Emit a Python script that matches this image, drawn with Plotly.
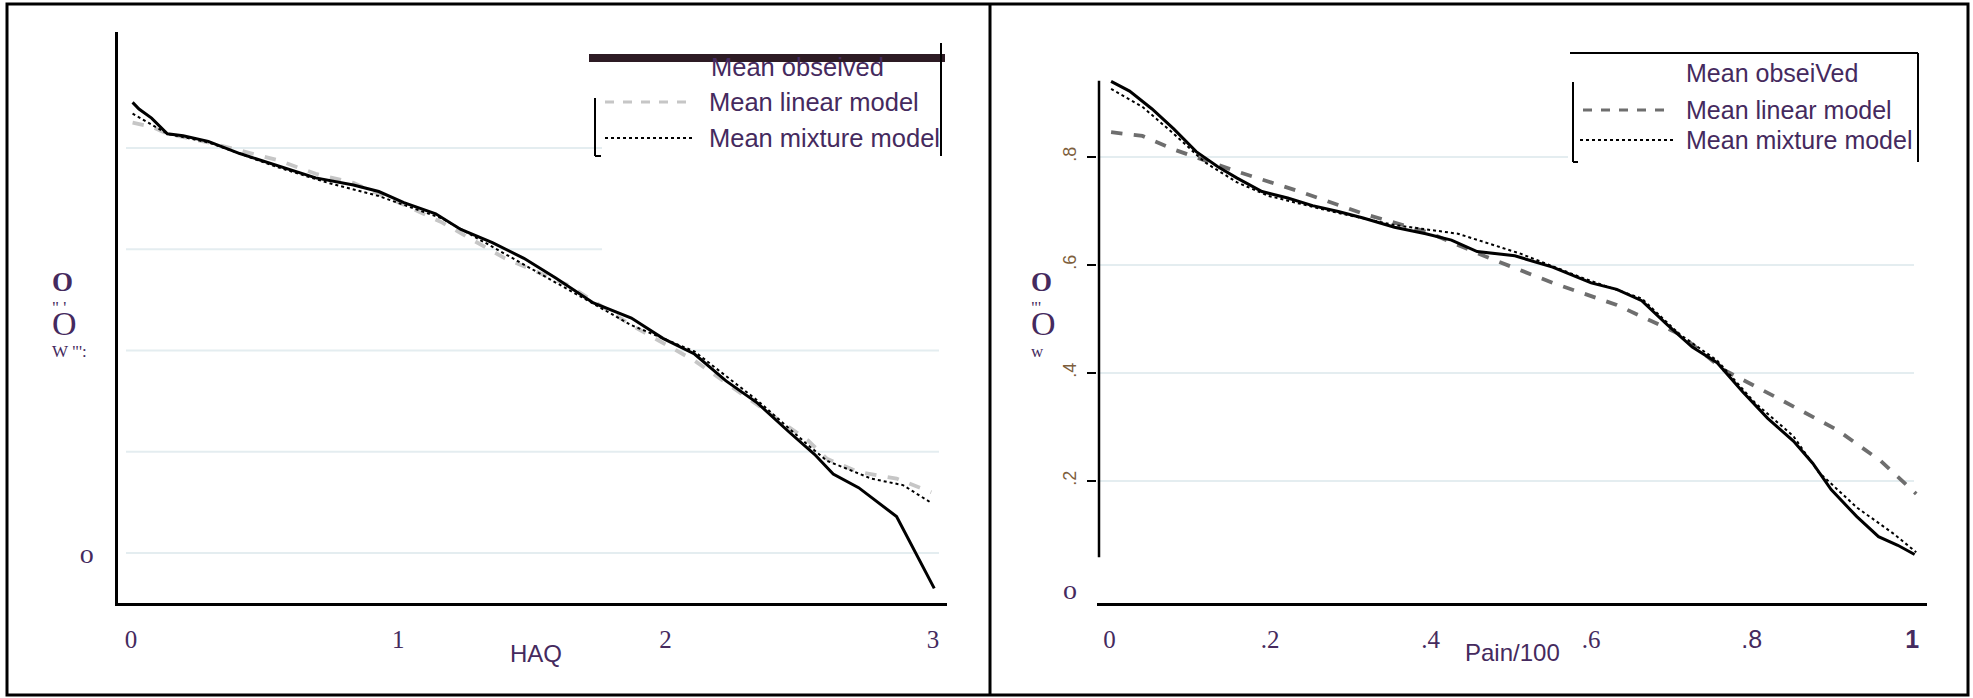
import plotly.graph_objects as go

W, H = 1973, 698

# ---------------- data ----------------
haq_obs_x = [0.006, 0.030, 0.077, 0.136, 0.195, 0.289, 0.407, 0.549, 0.691, 0.832, 0.927, 1.021,
             1.140, 1.234, 1.352, 1.470, 1.589, 1.730, 1.872, 1.990, 2.108, 2.226, 2.344, 2.462,
             2.557, 2.627, 2.722, 2.864, 2.935, 3.005]
haq_obs_y = [0.890, 0.877, 0.859, 0.828, 0.824, 0.813, 0.789, 0.765, 0.741, 0.727, 0.714, 0.692,
             0.670, 0.639, 0.613, 0.582, 0.543, 0.494, 0.464, 0.424, 0.393, 0.340, 0.296, 0.239,
             0.195, 0.156, 0.129, 0.072, 0.002, -0.070]

haq_lin_x = [0.006, 0.077, 0.136, 0.289, 0.549, 0.691, 0.832, 1.021, 1.163, 1.399, 1.636, 1.872,
             2.108, 2.344, 2.533, 2.604, 2.722, 2.864, 2.994]
haq_lin_y = [0.850, 0.842, 0.828, 0.811, 0.776, 0.749, 0.731, 0.688, 0.653, 0.582, 0.529, 0.450,
             0.380, 0.292, 0.222, 0.186, 0.160, 0.147, 0.120]

haq_mix_x = [0.006, 0.136, 0.289, 0.549, 0.738, 0.927, 1.163, 1.399, 1.636, 1.872, 2.108, 2.344,
             2.533, 2.604, 2.769, 2.888, 2.994]
haq_mix_y = [0.868, 0.828, 0.811, 0.762, 0.731, 0.705, 0.661, 0.591, 0.521, 0.450, 0.398, 0.301,
             0.213, 0.182, 0.147, 0.134, 0.099]

pain_obs_x = [0.002, 0.025, 0.053, 0.080, 0.108, 0.135, 0.159, 0.190, 0.222, 0.253, 0.285, 0.316,
              0.355, 0.394, 0.426, 0.458, 0.505, 0.552, 0.600, 0.632, 0.663, 0.695, 0.726, 0.757,
              0.789, 0.820, 0.852, 0.876, 0.899, 0.931, 0.958, 0.982, 1.003]
pain_obs_y = [0.940, 0.922, 0.889, 0.852, 0.810, 0.782, 0.761, 0.736, 0.724, 0.710, 0.699, 0.687,
              0.670, 0.658, 0.646, 0.625, 0.617, 0.596, 0.567, 0.555, 0.534, 0.489, 0.448, 0.419,
              0.365, 0.316, 0.274, 0.233, 0.184, 0.134, 0.097, 0.081, 0.064]

pain_lin_x = [0.002, 0.041, 0.080, 0.159, 0.237, 0.316, 0.394, 0.473, 0.552, 0.632, 0.710, 0.765,
              0.828, 0.906, 0.961, 1.005]
pain_lin_y = [0.846, 0.839, 0.814, 0.773, 0.736, 0.695, 0.662, 0.613, 0.567, 0.526, 0.472, 0.406,
              0.357, 0.295, 0.237, 0.176]

pain_mix_x = [0.002, 0.041, 0.080, 0.119, 0.159, 0.198, 0.277, 0.355, 0.434, 0.512, 0.591, 0.663,
              0.710, 0.757, 0.804, 0.852, 0.883, 0.931, 0.978, 1.005]
pain_mix_y = [0.926, 0.893, 0.843, 0.790, 0.753, 0.728, 0.699, 0.674, 0.658, 0.621, 0.575, 0.538,
              0.472, 0.423, 0.345, 0.283, 0.217, 0.151, 0.101, 0.068]

haq_ticks = [0, 1, 2, 3]
haq_ticktext = ["0", "1", "2", "3"]
pain_ticks = [0, 0.2, 0.4, 0.6, 0.8, 1]
pain_ticktext = ["0", ".2", ".4", ".6",
                 "<span style='font-family:Liberation Sans'>.8</span>",
                 "<span style='font-family:Liberation Sans'><b>1</b></span>"]
pain_yticks = [0.2, 0.4, 0.6, 0.8]
pain_yticktext = [".2", ".4", ".6", ".8"]
grid_left = [0, 0.2, 0.4, 0.6, 0.8]
grid_right = [0.2, 0.4, 0.6, 0.8]

legend_labels_left = ["Mean obseived", "Mean linear model", "Mean mixture model"]
legend_labels_right = ["Mean obseiVed", "Mean linear model", "Mean mixture model"]
x_title_left = "HAQ"
x_title_right = "Pain/100"
y_title_left = ("<span style='font-size:27px'><b>O</b></span><br>\" '<br>"
                "<span style='font-size:34px'>O</span><br>W \"':")
y_title_right = ("<span style='font-size:27px'><b>O</b></span><br>\"'<br>"
                 "<span style='font-size:34px'>O</span><br>w")

# ---------------- helpers ----------------
def px(x):
    return x / W

def py(y):
    return 1 - y / H

SERIF = "Liberation Serif"
SANS = "Liberation Sans"
PURPLE = "#452a5e"
GRID = "#e4edf0"

fig = go.Figure()

# left traces
fig.add_trace(go.Scatter(x=haq_lin_x, y=haq_lin_y, mode="lines", xaxis="x", yaxis="y",
                         line=dict(color="#c6c6c6", width=3.8, dash="dash"), showlegend=False))
fig.add_trace(go.Scatter(x=haq_mix_x, y=haq_mix_y, mode="lines", xaxis="x", yaxis="y",
                         line=dict(color="black", width=2, dash="dot"), showlegend=False))
fig.add_trace(go.Scatter(x=haq_obs_x, y=haq_obs_y, mode="lines", xaxis="x", yaxis="y",
                         line=dict(color="black", width=3), showlegend=False))
# right traces
fig.add_trace(go.Scatter(x=pain_lin_x, y=pain_lin_y, mode="lines", xaxis="x2", yaxis="y2",
                         line=dict(color="#6e6e6e", width=3.8, dash="dash"), showlegend=False))
fig.add_trace(go.Scatter(x=pain_mix_x, y=pain_mix_y, mode="lines", xaxis="x2", yaxis="y2",
                         line=dict(color="black", width=2, dash="dot"), showlegend=False))
fig.add_trace(go.Scatter(x=pain_obs_x, y=pain_obs_y, mode="lines", xaxis="x2", yaxis="y2",
                         line=dict(color="black", width=3), showlegend=False))

shapes = []
# gridlines
for g in grid_left:
    x1 = 939 if g <= 0.4 else 602
    shapes.append(dict(type="line", xref="paper", yref="y", x0=px(126), x1=px(x1), y0=g, y1=g,
                       line=dict(color=GRID, width=2), layer="below"))
for g in grid_right:
    x1 = 1914 if g <= 0.6 else 1568
    shapes.append(dict(type="line", xref="paper", yref="y2", x0=px(1099), x1=px(x1), y0=g, y1=g,
                       line=dict(color=GRID, width=2), layer="below"))

# right y axis line (shorter than domain)
shapes.append(dict(type="line", xref="paper", yref="y2", x0=px(1099), x1=px(1099),
                   y0=0.059, y1=0.941, line=dict(color="black", width=2.5)))

# outer frame and separator
shapes.append(dict(type="rect", xref="paper", yref="paper", x0=px(7), x1=px(1968),
                   y0=py(695), y1=py(4), line=dict(color="black", width=3)))
shapes.append(dict(type="line", xref="paper", yref="paper", x0=px(990), x1=px(990),
                   y0=py(695), y1=py(4), line=dict(color="black", width=3)))

# left legend decorations
shapes.append(dict(type="rect", xref="paper", yref="paper", x0=px(589), x1=px(945),
                   y0=py(62), y1=py(54), line=dict(width=0), fillcolor="#2d1b24"))
shapes.append(dict(type="line", xref="paper", yref="paper", x0=px(941), x1=px(941),
                   y0=py(156), y1=py(43), line=dict(color="black", width=2)))
shapes.append(dict(type="line", xref="paper", yref="paper", x0=px(595), x1=px(595),
                   y0=py(156), y1=py(98), line=dict(color="black", width=2)))
shapes.append(dict(type="line", xref="paper", yref="paper", x0=px(595), x1=px(601),
                   y0=py(156), y1=py(156), line=dict(color="black", width=2)))
shapes.append(dict(type="line", xref="paper", yref="paper", x0=px(605), x1=px(695),
                   y0=py(102), y1=py(102), line=dict(color="#c6c6c6", width=3, dash="dash")))
shapes.append(dict(type="line", xref="paper", yref="paper", x0=px(605), x1=px(695),
                   y0=py(138), y1=py(138), line=dict(color="black", width=2, dash="dot")))

# right legend decorations
shapes.append(dict(type="line", xref="paper", yref="paper", x0=px(1570), x1=px(1918),
                   y0=py(53), y1=py(53), line=dict(color="black", width=2)))
shapes.append(dict(type="line", xref="paper", yref="paper", x0=px(1918), x1=px(1918),
                   y0=py(162), y1=py(53), line=dict(color="black", width=2)))
shapes.append(dict(type="line", xref="paper", yref="paper", x0=px(1573), x1=px(1573),
                   y0=py(162), y1=py(82), line=dict(color="black", width=2)))
shapes.append(dict(type="line", xref="paper", yref="paper", x0=px(1573), x1=px(1578),
                   y0=py(162), y1=py(162), line=dict(color="black", width=2)))
shapes.append(dict(type="line", xref="paper", yref="paper", x0=px(1583), x1=px(1673),
                   y0=py(110), y1=py(110), line=dict(color="#6e6e6e", width=3, dash="dash")))
shapes.append(dict(type="line", xref="paper", yref="paper", x0=px(1580), x1=px(1673),
                   y0=py(140), y1=py(140), line=dict(color="black", width=2, dash="dot")))

annotations = []
def ann(text, x, y, size, family=SANS, color=PURPLE, xanchor="center", yref="paper", yval=None,
        align="center"):
    annotations.append(dict(text=text, x=px(x), y=py(y) if yval is None else yval,
                            xref="paper", yref=yref, showarrow=False, xanchor=xanchor,
                            yanchor="middle", align=align,
                            font=dict(size=size, family=family, color=color)))

# legend texts
for lbl, (lx, ly) in zip(legend_labels_left, [(709, 67), (707, 102), (707, 138)]):
    ann(lbl, lx, ly, 25.5, xanchor="left")
for lbl, (lx, ly) in zip(legend_labels_right, [(1684, 73), (1684, 110), (1684, 140)]):
    ann(lbl, lx, ly, 25, xanchor="left")

# axis titles
ann(x_title_left, 536, 653, 24)
ann(x_title_right, 1512, 652, 24)

# garbled y titles (stacked glyphs)
ann(y_title_left, 50, 314, 17, family=SERIF, xanchor="left", align="left")
ann(y_title_right, 1029, 314, 17, family=SERIF, xanchor="left", align="left")

# right y zero label
ann("o", 1070, 0, 28, family=SERIF, yref="y2", yval=0)

axis_common = dict(showgrid=False, zeroline=False)

fig.update_layout(
    width=W, height=H,
    margin=dict(l=0, r=0, t=0, b=0),
    paper_bgcolor="white", plot_bgcolor="white",
    showlegend=False,
    xaxis=dict(domain=[px(118), px(947)], range=[-0.0486, 3.0527], anchor="y",
               tickvals=haq_ticks, ticktext=haq_ticktext, ticks="", showline=True,
               linecolor="black", linewidth=3, ticklabelstandoff=12,
               tickfont=dict(family=SERIF, size=25, color=PURPLE), **axis_common),
    yaxis=dict(domain=[py(603), py(32)], range=[-0.0988, 1.0291], anchor="x",
               tickvals=[0], ticktext=["o"], ticks="", showline=True,
               linecolor="black", linewidth=2.5, ticklabelstandoff=16,
               tickfont=dict(family=SERIF, size=28, color=PURPLE), **axis_common),
    xaxis2=dict(domain=[px(1097), px(1927)], range=[-0.01557, 1.0184], anchor="y2",
                tickvals=pain_ticks, ticktext=pain_ticktext, ticks="", showline=True,
                linecolor="black", linewidth=3, ticklabelstandoff=12,
                tickfont=dict(family=SERIF, size=25, color=PURPLE), **axis_common),
    yaxis2=dict(domain=[py(603), py(32)], range=[-0.0259, 1.0315], anchor="x2",
                tickvals=pain_yticks, ticktext=pain_yticktext, ticks="outside", ticklen=9,
                tickwidth=2, tickcolor="black", showline=False, tickangle=-90,
                ticklabelstandoff=4,
                tickfont=dict(family=SANS, size=18, color="#7d5e3c"), **axis_common),
    shapes=shapes,
    annotations=annotations,
)

fig.write_html("out.html", config={"displayModeBar": False},
               post_script="document.body.style.margin='0';document.body.style.overflow='hidden';")
